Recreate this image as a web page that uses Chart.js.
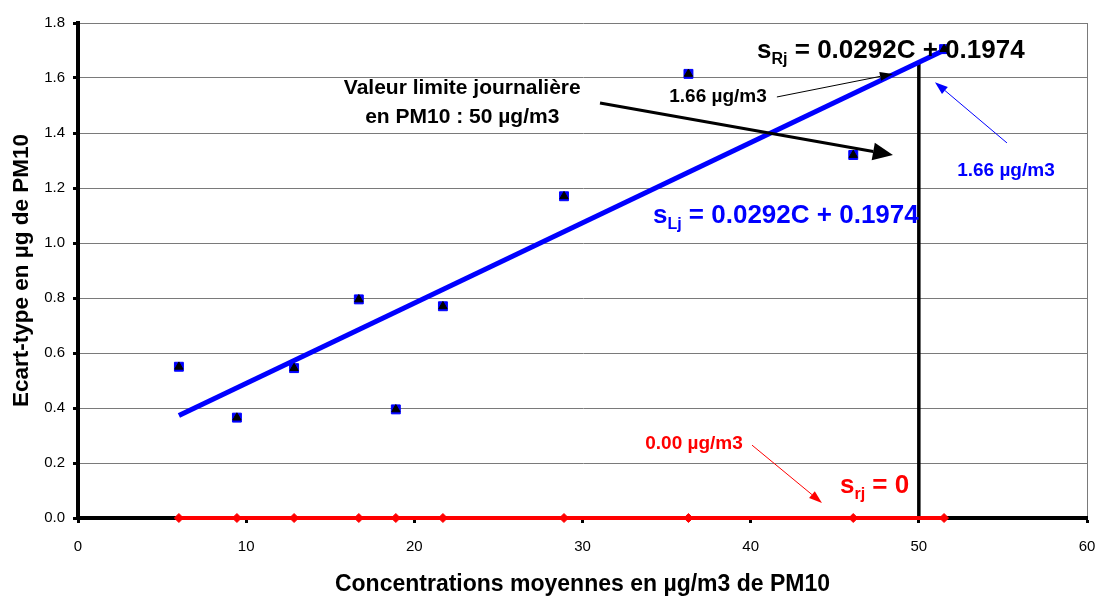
<!DOCTYPE html>
<html>
<head>
<meta charset="utf-8">
<script src="https://cdn.jsdelivr.net/npm/chart.js@4.4.0/dist/chart.umd.min.js"></script>
<style>
  html, body { margin: 0; padding: 0; background: #fff; }
  #wrap { width: 1098px; height: 597px; }
</style>
</head>
<body>
<div id="wrap"><canvas id="chart" width="1098" height="597"></canvas></div>
<script>
// 📦 DONNÉES
const concentrations = [6.0, 9.45, 12.85, 16.7, 18.9, 21.7, 28.9, 36.3, 46.1, 51.5];
const ecartTypes     = [0.55, 0.365, 0.545, 0.795, 0.395, 0.77, 1.17, 1.615, 1.32, 1.705];
const ecartRepet     = [0, 0, 0, 0, 0, 0, 0, 0, 0, 0];   // srj = 0
const pente = 0.0292;
const ordonnee = 0.1974;
const valeurLimite = 50;
const incertitudeLimite = 1.66;
const xTicks = [0, 10, 20, 30, 40, 50, 60];
const yTicks = [0, 0.2, 0.4, 0.6, 0.8, 1.0, 1.2, 1.4, 1.6, 1.8];

const BLEU = "#0000FF";
const ROUGE = "#FF0000";
const GRIS = "#7a7a7a";
const FONT = "Arial, 'Liberation Sans', sans-serif";

// points construits à partir des tableaux
const pointsMesures = concentrations.map((c, i) => ({ x: c, y: ecartTypes[i] }));
const pointsRepet = concentrations.map((c, i) => ({ x: c, y: ecartRepet[i] }));
const cMin = Math.min(...concentrations);
const cMax = Math.max(...concentrations);
const droite = [cMin, cMax].map(c => ({ x: c, y: pente * c + ordonnee }));
const ligneLimite = [{ x: valeurLimite, y: 0 }, { x: valeurLimite, y: incertitudeLimite }];

// ✏️ petits outils de dessin
function fleche(ctx, x1, y1, x2, y2, couleur, epaisseur, longTete, largTete) {
  const a = Math.atan2(y2 - y1, x2 - x1);
  const bx = x2 - Math.cos(a) * longTete;
  const by = y2 - Math.sin(a) * longTete;
  ctx.save();
  ctx.strokeStyle = couleur;
  ctx.fillStyle = couleur;
  ctx.lineWidth = epaisseur;
  ctx.beginPath();
  ctx.moveTo(x1, y1);
  ctx.lineTo(bx, by);
  ctx.stroke();
  ctx.beginPath();
  ctx.moveTo(x2, y2);
  ctx.lineTo(bx + Math.sin(a) * largTete / 2, by - Math.cos(a) * largTete / 2);
  ctx.lineTo(bx - Math.sin(a) * largTete / 2, by + Math.cos(a) * largTete / 2);
  ctx.closePath();
  ctx.fill();
  ctx.restore();
}

function texteIndice(ctx, x, y, base, indice, suite, taille, couleur) {
  ctx.save();
  ctx.fillStyle = couleur;
  ctx.textAlign = "left";
  ctx.textBaseline = "alphabetic";
  ctx.font = `bold ${taille}px ${FONT}`;
  ctx.fillText(base, x, y);
  x += ctx.measureText(base).width;
  ctx.font = `bold ${Math.round(taille * 0.62)}px ${FONT}`;
  ctx.fillText(indice, x, y + taille * 0.22);
  x += ctx.measureText(indice).width;
  ctx.font = `bold ${taille}px ${FONT}`;
  ctx.fillText(suite, x, y);
  ctx.restore();
}

function texte(ctx, t, x, y, taille, couleur) {
  ctx.save();
  ctx.fillStyle = couleur;
  ctx.font = `bold ${taille}px ${FONT}`;
  ctx.textAlign = "center";
  ctx.textBaseline = "middle";
  ctx.fillText(t, x, y);
  ctx.restore();
}

// 🔥 annotations (positions en unités des axes)
const annotations = {
  id: "annotations",
  afterDatasetsDraw(chart) {
    const ctx = chart.ctx;
    const X = v => chart.scales.x.getPixelForValue(v);
    const Y = v => chart.scales.y.getPixelForValue(v);

    texte(ctx, "Valeur limite journalière", X(22.85), Y(1.564), 21, "#000");
    texte(ctx, "en PM10 : 50 µg/m3", X(22.85), Y(1.458), 21, "#000");
    fleche(ctx, X(31.04), Y(1.509), X(48.46), Y(1.32), "#000", 3, 20, 18);

    texte(ctx, "1.66 µg/m3", X(38.06), Y(1.531), 19, "#000");
    fleche(ctx, X(41.56), Y(1.531), X(48.46), Y(1.615), "#000", 1, 13, 9);
    texteIndice(ctx, X(40.38), Y(1.673), "s", "Rj", " = 0.0292C + 0.1974", 26, "#000");

    texte(ctx, "1.66 µg/m3", X(55.18), Y(1.262), 19, BLEU);
    fleche(ctx, X(55.24), Y(1.364), X(50.96), Y(1.585), BLEU, 1, 13, 9);
    texteIndice(ctx, X(34.19), Y(1.073), "s", "Lj", " = 0.0292C + 0.1974", 26, BLEU);

    texte(ctx, "0.00 µg/m3", X(36.63), Y(0.269), 19, ROUGE);
    fleche(ctx, X(40.08), Y(0.265), X(44.24), Y(0.055), ROUGE, 1, 13, 9);
    texteIndice(ctx, X(45.31), Y(0.091), "s", "rj", " = 0", 26, ROUGE);
  },
  afterDraw(chart) {
    const ctx = chart.ctx;
    const a = chart.chartArea;
    // bordure droite grise
    ctx.save();
    ctx.strokeStyle = GRIS;
    ctx.lineWidth = 1;
    ctx.beginPath();
    ctx.moveTo(a.right + 0.5, a.top);
    ctx.lineTo(a.right + 0.5, a.bottom - 2);
    ctx.stroke();
    ctx.restore();
    // titres des axes
    texte(ctx, "Concentrations moyennes en µg/m3 de PM10", (a.left + a.right) / 2, 585, 23, "#000");
    ctx.save();
    ctx.translate(22, (a.top + a.bottom) / 2);
    ctx.rotate(-Math.PI / 2);
    texte(ctx, "Ecart-type en µg de PM10", 0, 0, 22.5, "#000");
    ctx.restore();
  }
};

// 📐 zone de tracé fixe : on neutralise les marges auto des axes
function fixeX(s) {
  s.height = 79;
  s.paddingLeft = 0; s.paddingRight = 0; s.paddingTop = 0; s.paddingBottom = 0;
}
function fixeY(s) {
  s.width = 78;
  s.paddingLeft = 0; s.paddingRight = 0; s.paddingTop = 0; s.paddingBottom = 0;
}

new Chart(document.getElementById("chart"), {
  type: "scatter",
  data: {
    datasets: [
      {
        label: "sLj",
        data: pointsMesures,
        pointStyle: "triangle",
        pointRadius: 4.8,
        backgroundColor: "#000",
        borderColor: "#000",
        borderWidth: 1,
        showLine: false,
        clip: false
      },
      {
        label: "sRj",
        data: pointsMesures,
        pointStyle: "rect",
        pointRadius: 6.3,
        backgroundColor: BLEU,
        borderColor: BLEU,
        borderWidth: 1,
        showLine: false,
        clip: false
      },
      {
        label: "droite",
        data: droite,
        showLine: true,
        borderColor: BLEU,
        borderWidth: 5,
        pointRadius: 0,
        clip: false
      },
      {
        label: "srj",
        data: pointsRepet,
        showLine: true,
        borderColor: ROUGE,
        backgroundColor: ROUGE,
        borderWidth: 4,
        pointStyle: "rectRot",
        pointRadius: 4.5,
        pointBorderWidth: 1,
        clip: false
      },
      {
        label: "limite",
        data: ligneLimite,
        showLine: true,
        borderColor: "#000",
        borderWidth: 3.5,
        pointRadius: 0,
        clip: false
      }
    ]
  },
  options: {
    responsive: false,
    animation: false,
    layout: { padding: { top: 23, right: 11, left: 0, bottom: 0 } },
    plugins: {
      legend: { display: false },
      tooltip: { enabled: false }
    },
    scales: {
      x: {
        type: "linear",
        min: 0,
        max: 60,
        afterBuildTicks: s => { s.ticks = xTicks.map(v => ({ value: v })); },
        afterFit: fixeX,
        border: { color: "#000", width: 4 },
        grid: {
          drawOnChartArea: false,
          color: "#000",
          tickColor: "#000",
          tickLength: 5,
          tickWidth: 3
        },
        ticks: {
          color: "#000",
          font: { family: FONT, size: 15 },
          padding: 15,
          callback: v => v
        }
      },
      y: {
        type: "linear",
        min: 0,
        max: 1.8,
        afterBuildTicks: s => { s.ticks = yTicks.map(v => ({ value: v })); },
        afterFit: fixeY,
        border: { color: "#000", width: 4 },
        grid: {
          color: GRIS,
          lineWidth: 1,
          tickColor: "#000",
          tickLength: 5,
          tickWidth: 3
        },
        ticks: {
          color: "#000",
          font: { family: FONT, size: 15 },
          padding: 8,
          callback: v => Number(v).toFixed(1)
        }
      }
    }
  },
  plugins: [annotations]
});
</script>
</body>
</html>
